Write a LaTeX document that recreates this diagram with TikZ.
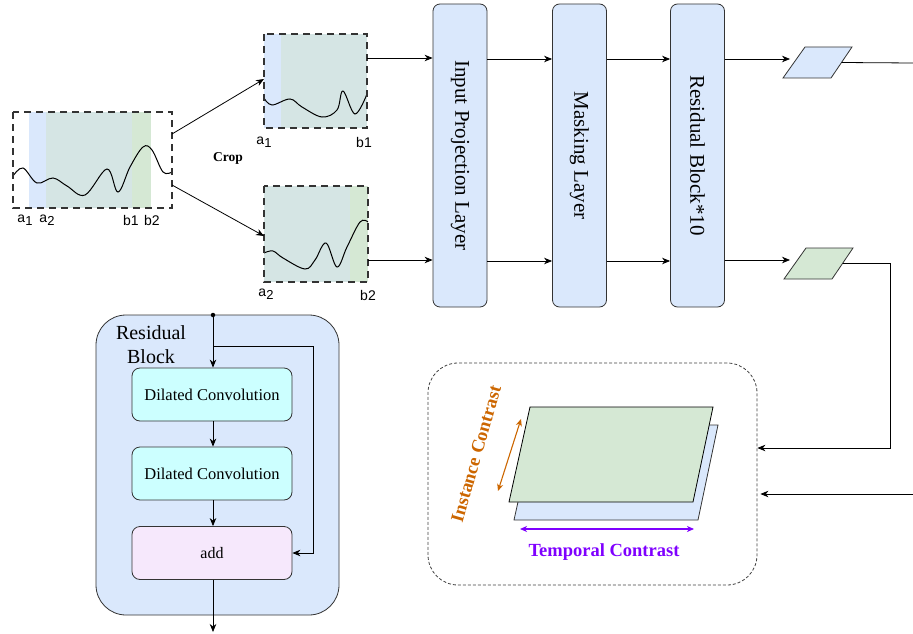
\documentclass[tikz,border=0pt]{standalone}
\usepackage{fontspec}
\setmainfont{Liberation Serif}
\newfontfamily\arialf{Liberation Sans}
\usetikzlibrary{arrows.meta}
\definecolor{blueF}{HTML}{DAE8FC}
\definecolor{greenF}{HTML}{D5E8D4}
\definecolor{tealF}{HTML}{D5E5E4}
\definecolor{cyanF}{HTML}{CCFFFF}
\definecolor{pinkF}{HTML}{F6E8FC}
\definecolor{orangeC}{HTML}{CC6600}
\definecolor{purpleC}{HTML}{7F00FF}
\definecolor{strokeC}{HTML}{333333}
\newcommand{\sublab}[2]{{\arialf\fontsize{14}{16}\selectfont #1\raisebox{-0.35ex}{\fontsize{13}{14}\selectfont #2}}}
\newcommand{\plainlab}[1]{{\arialf\fontsize{14}{16}\selectfont #1}}
\begin{document}
\begin{tikzpicture}[x=1pt,y=-1pt,
  >={Stealth[length=8pt,width=6.5pt,inset=2.5pt]},
  conn/.style={draw=black, line width=0.8pt},
  layer/.style={draw=strokeC, line width=0.8pt, fill=blueF, rounded corners=7pt, minimum width=54pt, minimum height=303pt, inner sep=0pt, font=\fontsize{21}{25}\selectfont},
  conv/.style={draw=strokeC, line width=0.8pt, rounded corners=8pt, minimum width=160pt, minimum height=53pt, inner sep=0pt, font=\fontsize{16.5}{20}\selectfont},
  dashbox/.style={draw=black!80, line width=1.2pt, dash pattern=on 7pt off 5pt},
  curve/.style={draw=black, line width=1pt, smooth, tension=0.6},
  paraline/.style={draw=strokeC, line width=0.8pt},
]
\useasboundingbox (0,0) rectangle (913,634);

% ---------- big series box ----------
\fill[blueF] (29,112) rectangle (46,208);
\fill[tealF] (46,112) rectangle (132,208);
\fill[greenF] (132,112) rectangle (151,208);
\draw[curve] plot coordinates {(13,176)(23,168)(37,183)(53,178)(67,186)(85,195)(107,169)(118,192)(130,167)(143,147)(152,150)(163,172)(172,172)};
\draw[dashbox] (13,112) rectangle (172,208);
\coordinate (bigR1) at (172,134);
\coordinate (bigR2) at (172,185);
\node (la1) at (25,220) {\sublab{a}{1}};
\node (la2) at (47,220) {\sublab{a}{2}};
\node (lb1) at (131,220) {\plainlab{b1}};
\node (lb2) at (152,220) {\plainlab{b2}};
\node (crop) at (228,158) {\fontsize{13.5}{16}\selectfont\textbf{Crop}};

% ---------- top crop box ----------
\fill[blueF] (264,34) rectangle (281,128);
\fill[tealF] (281,34) rectangle (367,128);
\draw[curve] plot coordinates {(264,98)(272,105)(290,99)(302,107)(322,117)(337,110)(343,91)(355,114)(367,94)};
\draw[dashbox] (264,34) rectangle (367,128);
\coordinate (c1L) at (264,79);
\coordinate (c1R) at (367,58);
\node (lta1) at (264,142) {\sublab{a}{1}};
\node (ltb1) at (364,142) {\plainlab{b1}};

% ---------- bottom crop box ----------
\fill[tealF] (264,186) rectangle (350,282);
\fill[greenF] (350,186) rectangle (368,282);
\draw[curve] plot coordinates {(264,253)(273,251)(283,258)(305,269)(315,260)(326,243)(337,267)(347,247)(360,222)(368,222)};
\draw[dashbox] (264,186) rectangle (368,282);
\coordinate (c2L) at (264,236);
\coordinate (c2R) at (368,260);
\node (lba2) at (266,294) {\sublab{a}{2}};
\node (lbb2) at (368,295) {\plainlab{b2}};

\draw[conn,->] (bigR1) -- (c1L);
\draw[conn,->] (bigR2) -- (c2L);

% ---------- layers ----------
\node[layer] (ipl) at (460,155.5) {\rotatebox{-90}{Input Projection Layer}};
\node[layer] (mask) at (579.5,155.5) {\rotatebox{-90}{Masking Layer}};
\node[layer] (res) at (697.5,155.5) {\rotatebox{-90}{Residual Block*10}};

\draw[conn,->] (c1R) -- (ipl.west |- c1R);
\draw[conn,->] (c2R) -- (ipl.west |- c2R);
\draw[conn,->] (ipl.east |- 0,59) -- (mask.west |- 0,59);
\draw[conn,->] (ipl.east |- 0,261) -- (mask.west |- 0,261);
\draw[conn,->] (mask.east |- 0,59) -- (res.west |- 0,59);
\draw[conn,->] (mask.east |- 0,261) -- (res.west |- 0,261);

% ---------- small representations ----------
\draw[paraline, fill=blueF] (805,47) -- (852,47) -- (831,78) -- (783,78) -- cycle;
\draw[paraline, fill=greenF] (806,248) -- (853,248) -- (832,279) -- (784,279) -- cycle;
\coordinate (p1E) at (841.5,62.5);
\coordinate (p2E) at (842.5,263.5);
\coordinate (p1in) at (790,59);
\coordinate (p2in) at (790,260);
\draw[conn,->] (res.east |- p1in) -- (p1in);
\draw[conn,->] (res.east |- p2in) -- (p2in);
\coordinate (outTop) at (913,63);
\draw[conn] (p1E) -- (outTop);

% ---------- contrast box ----------
\node[draw=black!75, line width=0.8pt, dash pattern=on 3pt off 2pt, rounded corners=30pt, minimum width=329pt, minimum height=222pt, inner sep=0pt] (cbox) at (592.5,474) {};
\draw[paraline, fill=blueF] (535,425) -- (718,425) -- (698,520) -- (514,520) -- cycle;
\draw[paraline, draw=black, fill=greenF] (530,407) -- (713,407) -- (693,502) -- (509,502) -- cycle;

\coordinate (turn1) at (890,263.5);
\coordinate (turn2) at (890,448);
\draw[conn,->] (p2E) -- (turn1) -- (turn2) -- (cbox.east |- turn2);
\coordinate (inBot) at (913,494);
\draw[conn,->] (inBot) -- ([xshift=3pt]cbox.east |- inBot);

\coordinate (oa1) at (521,419);
\coordinate (oa2) at (498,491);
\draw[draw=orangeC, line width=1.1pt, {Stealth[length=7pt,width=6pt,inset=2pt]}-{Stealth[length=7pt,width=6pt,inset=2pt]}] (oa1) -- (oa2);
\node[text=orangeC, rotate=74, inner sep=0pt, font=\fontsize{18.5}{22}\selectfont\bfseries] (inst) at (476,454) {Instance Contrast};

\coordinate (pa1) at (520,529);
\coordinate (pa2) at (694,529);
\draw[draw=purpleC, line width=1.1pt, {Stealth[length=7pt,width=6pt,inset=2pt]}-{Stealth[length=7pt,width=6pt,inset=2pt]}] (pa1) -- (pa2);
\node[text=purpleC, font=\fontsize{18.5}{22}\selectfont\bfseries] (temp) at (604,552) {Temporal Contrast};

% ---------- residual block detail ----------
\node[draw=strokeC, line width=0.8pt, fill=blueF, rounded corners=30pt, minimum width=243pt, minimum height=300pt, inner sep=0pt] (rbp) at (217.5,465) {};
\node[align=center, font=\fontsize{20}{24}\selectfont] (rbt) at (151,345) {Residual\\Block};
\node[conv, fill=cyanF] (dc1) at (212,394.5) {Dilated Convolution};
\node[conv, fill=cyanF] (dc2) at (212,473.5) {Dilated Convolution};
\node[conv, fill=pinkF, font=\fontsize{16}{19}\selectfont] (add) at (212,553) {add};
\node[circle, fill=black, inner sep=0pt, minimum size=4.5pt] (dot) at (213,315) {};
\coordinate (br) at (213,346);
\coordinate (brR) at (313,346);
\coordinate (brD) at (313,553);
\coordinate (outB) at (213,632);
\draw[conn,->] (dot) -- (dot |- dc1.north);
\draw[conn,->] (br) -- (brR) -- (brD) -- (add.east);
\draw[conn,->] (dc1.south -| dot) -- (dot |- dc2.north);
\draw[conn,->] (dc2.south -| dot) -- (dot |- add.north);
\draw[conn,->] (add.south -| dot) -- (outB);
\end{tikzpicture}
\end{document}
